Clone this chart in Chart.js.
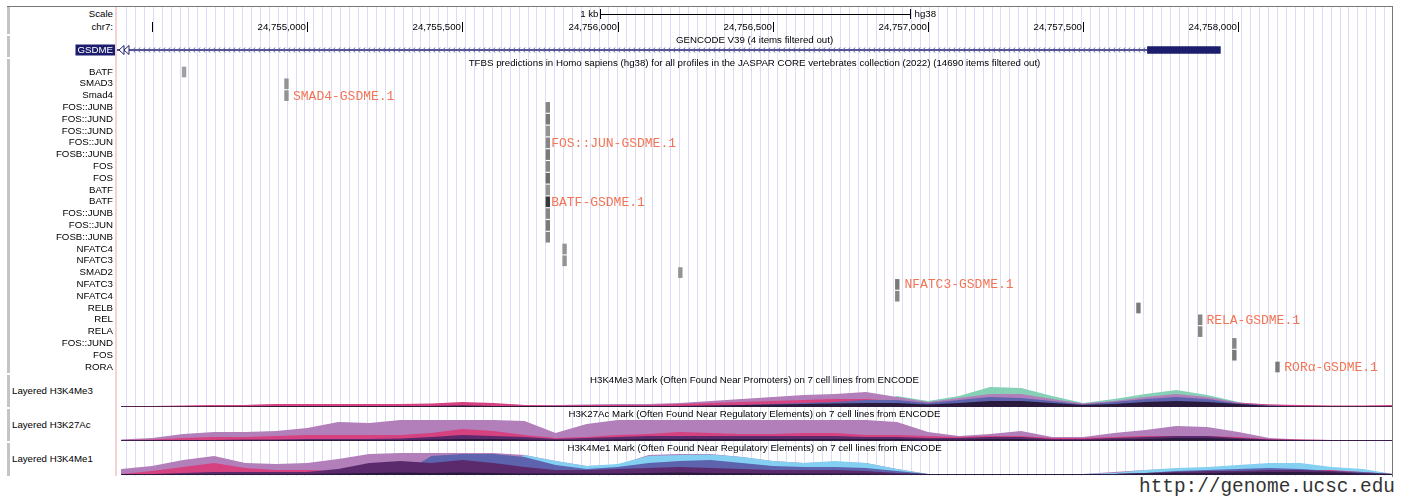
<!DOCTYPE html>
<html>
<head>
<meta charset="utf-8">
<script src="https://cdn.jsdelivr.net/npm/chart.js@4.4.1/dist/chart.umd.min.js"></script>
<style>
body{margin:0;background:#fff;width:1412px;height:497px;overflow:hidden;position:relative;font-family:"Liberation Sans",Arial,sans-serif;}
canvas{position:absolute;left:0}
.lbl{position:absolute;font-size:9.7px;line-height:12px;height:12px;color:#000;white-space:nowrap}
.r{left:0;width:113px;text-align:right}
.bar{position:absolute;left:7px;width:3px;background:#c4c4c4}
</style>
</head>
<body>
<div style="position:absolute;left:7px;top:6px;width:1386px;height:1px;background:#777"></div>
<div style="position:absolute;left:1392px;top:6px;width:1px;height:471px;background:#777"></div>
<div style="position:absolute;left:115px;top:7px;width:2px;height:469px;background:#f8d2d2"></div>
<div class="bar" style="top:7px;height:27px"></div>
<div class="bar" style="top:36px;height:21px"></div>
<div class="bar" style="top:59px;height:314px"></div>
<div class="bar" style="top:375px;height:32px"></div>
<div class="bar" style="top:409px;height:32px"></div>
<div class="bar" style="top:443px;height:33px"></div>

<div class="lbl r" style="top:8px">Scale</div>
<div class="lbl r" style="top:21px">chr7:</div>
<div class="lbl" style="left:12px;top:385px">Layered H3K4Me3</div>
<div class="lbl" style="left:12px;top:419px">Layered H3K27Ac</div>
<div class="lbl" style="left:12px;top:453px">Layered H3K4Me1</div>
<div style="position:absolute;right:17px;top:476px;font:19.4px 'Liberation Mono',monospace;line-height:22px;color:#333">http://genome.ucsc.edu</div>

<canvas id="ruler" width="1412" height="58" style="top:0px"></canvas>
<canvas id="tfbs" width="1412" height="316" style="top:58px"></canvas>
<canvas id="k4me3" width="1412" height="34" style="top:374px"></canvas>
<canvas id="k27ac" width="1412" height="34" style="top:408px"></canvas>
<canvas id="k4me1" width="1412" height="34" style="top:442px"></canvas>

<script>
// chr7 window shown
const XMIN = 24754387, XMAX = 24758495;

// ruler
const rulerTicks = [24754500, 24755000, 24755500, 24756000, 24756500, 24757000, 24757500, 24758000];
const rulerLabels = ['', '24,755,000', '24,755,500', '24,756,000', '24,756,500', '24,757,000', '24,757,500', '24,758,000'];
const scaleBarStart = 24755942, scaleBarLen = 1000;

// gene
const geneNames = ['GSDME'];
const geneIntron = [[24754000, 24757707]];
const geneExon = [[24757707, 24757942]];

// TFBS hits
const tfNames = ['BATF', 'SMAD3', 'Smad4', 'FOS::JUNB', 'FOS::JUND', 'FOS::JUND', 'FOS::JUN', 'FOSB::JUNB',
  'FOS', 'FOS', 'BATF', 'BATF', 'FOS::JUNB', 'FOS::JUN', 'FOSB::JUNB', 'NFATC4', 'NFATC3', 'SMAD2',
  'NFATC3', 'NFATC4', 'RELB', 'REL', 'RELA', 'FOS::JUND', 'FOS', 'RORA'];
const tfStart = [24754597, 24754927, 24754927, 24755769, 24755769, 24755769, 24755769, 24755769,
  24755769, 24755769, 24755769, 24755769, 24755769, 24755769, 24755769, 24755823, 24755823, 24756196,
  24756895, 24756895, 24757672, 24757871, 24757871, 24757981, 24757981, 24758120];
const tfEnd = [24754609, 24754939, 24754939, 24755781, 24755781, 24755781, 24755781, 24755781,
  24755781, 24755781, 24755781, 24755781, 24755781, 24755781, 24755781, 24755835, 24755835, 24756208,
  24756907, 24756907, 24757684, 24757883, 24757883, 24757993, 24757993, 24758132];
const tfScore = [500, 550, 550, 600, 650, 550, 600, 650, 600, 700, 550, 900, 600, 650, 600,
  550, 550, 550, 650, 600, 650, 600, 600, 600, 650, 650];

// highlighted sites
const annoText = ['SMAD4-GSDME.1', 'FOS::JUN-GSDME.1', 'BATF-GSDME.1', 'NFATC3-GSDME.1', 'RELA-GSDME.1', 'RORα-GSDME.1'];
const annoRow = [2, 6, 11, 18, 21, 25];
const annoPos = [24754954, 24755786, 24755786, 24756924, 24757897, 24758148];

// signal sample positions
const sigPos = [24754400, 24754500, 24754600, 24754700, 24754800, 24754900, 24755000, 24755100, 24755200,
  24755300, 24755400, 24755500, 24755600, 24755700, 24755800, 24755900, 24756000, 24756100, 24756200,
  24756300, 24756400, 24756500, 24756600, 24756700, 24756800, 24756900, 24757000, 24757100, 24757200,
  24757300, 24757400, 24757500, 24757600, 24757700, 24757800, 24757900, 24758000, 24758100, 24758200,
  24758300, 24758400, 24758500];

// H3K4Me3
const k4me3Green = [0,0,0,0,0,0,0,0,0,0,0,0,0,0,0,0,0,0,0,0,0,0,0,0,0,11,6,11,20,19,11,4,8,13,17,12,5,0,0,0,0,0];
const k4me3Purple = [0.5,1,1,1.5,2,2.5,2.5,2.5,2.5,3,3,4,3,2,2,2.5,3,3,4,6,8,10,12,13,15,10,5,9,13,13,8,3.5,6,10,13,10,4.5,2.5,1.5,1,1,1.5];
const k4me3Pink = [1,1,1.5,2,2,3,3,3,3,3,3.5,5,4,2,1.5,2,2,2,3,4,5,6,7,8,8,6,4,5,6,6,4,3,4,5,6,5,4,2.5,2,1.5,1.5,2];
const k4me3Slate = [0,0,0,0,0,0,0,0,0,0,0,0,0,0,0,0,0,0,0,1,2,3,4,5,7,7,4,7,10,9,6,2.5,5,8,10,8,3.5,1.5,0.5,0.5,0.5,0.5];
const k4me3Navy = [0.8,0.8,0.8,0.8,0.8,1,1,1,1,1,1,1.5,1,1,1,1,1,1,1,1.5,2,2.5,3,3.5,4,4,2.5,4,6,6,4,2,3,5,6,5,3,1,0.8,0.8,0.8,0.8];

// H3K27Ac
const k27Purple = [1.5,3,7,9,9,10,13,19,18,21,21,21,21,20,8,17,21,21,21,21,21,21,21,21,21,19,9,5,7,10,4,4,8,11,15,14,9,3,1.5,1,1,1];
const k27Pink = [1,1.5,3,4,4,5,6,6,6,6,8,12,10,6,3,4,6,7,9,8,7,7,8,8,6,6,5,4,5,5,3,3,4,5,5,5,4,2,1.5,1,1,1];
const k27Dark = [0.5,0.8,1,1,1.5,1.5,2,2,2,2.5,4,6,5,4,2,3,4,5,5,5,5,5,5,5,4,4,3,3,4,4,2,2,3,4,5,5,3,1.5,1,0.8,0.8,0.8];
const k27Navy = [0.8,0.8,0.8,0.8,0.8,0.8,1,1,1,1,1.5,2,2,1.5,1,1,1.5,2,2,2,2,2,2,2,2,2,1.5,1.5,2,2,1,1,1.5,2,3,3,2,1,0.8,0.8,0.8,0.8];

// H3K4Me1
const k4me1Purple = [6,9,15,19,12,11,12,16,21,22,22,22,22,20,14,9,10,20,21,21,18,14,12,13,12,6,1,1,1,1,1,1,3,5,6,7,7,7,7,6,4,1];
const k4me1Blue = [0,0,0,0,0,0,0,0,0,0,0,0,0,20,14,9,11,19,20,20.5,18,14,12,14,12,6,1,1,1,1,1,1,2,5,7,8,10,12,12,8,6,1];
const k4me1Pink = [1,4,8,12,7,5,5,4,3,2,2,2,2,1.5,1.5,1.5,1.5,1.5,1.5,1.5,1.5,1.5,1.5,1.5,1.5,1.5,1,1,1,1,1,1,1,1.5,2,2,3,4,5,5,3,1];
const k4me1Slate = [0,0,0,0,0,0,0,0,0,0,19,21,21,18,10,6,8,12,14,15,12,9,8,8,7,4,1,1,1,1,1,1,1,2,4,5,6,7,6,4,3,1];
const k4me1Dark = [1,1,2,3,3,3,3,6,12,14,12,15,12,8,5,5,6,7,8,7,6,5,5,5,4,2,1,1,1,1,1,1,1,2,3,4,4,5,5,4,2,1];
const k4me1Navy = [1,1,1,1,1,1,1,1.5,2,2.5,2,2.5,2,1.5,1.5,1.5,1.5,2,2.5,2,2,1.5,1.5,1.5,1.5,1,1,1,1,1,1,1,1,1.5,2,2,2.5,3,3,2.5,1.5,1];

const FONT = '9.7px "Liberation Sans", Arial, sans-serif';
const NAVY = '#1d1d6e';
const guideStart = 24754416, guideStep = 28.75;

const guides = {
  id: 'guides',
  beforeDatasetsDraw(chart, args, opts) {
    const x = chart.scales.x, ctx = chart.ctx;
    ctx.save();
    ctx.strokeStyle = '#dcdcf6';
    ctx.lineWidth = 1;
    ctx.beginPath();
    for (let v = guideStart; v < XMAX; v += guideStep) {
      const px = Math.round(x.getPixelForValue(v)) + 0.5;
      ctx.moveTo(px, opts.top || 0);
      ctx.lineTo(px, chart.height);
    }
    ctx.stroke();
    ctx.restore();
  }
};

const rulerDeco = {
  id: 'rulerDeco',
  afterDraw(chart) {
    const x = chart.scales.x, ctx = chart.ctx, a = chart.chartArea;
    ctx.save();
    ctx.font = FONT;
    ctx.fillStyle = '#000';
    ctx.strokeStyle = '#000';
    ctx.textBaseline = 'middle';
    // scale bar
    const s0 = Math.round(x.getPixelForValue(scaleBarStart)) + 0.5;
    const s1 = Math.round(x.getPixelForValue(scaleBarStart + scaleBarLen)) + 0.5;
    ctx.beginPath();
    ctx.moveTo(s0, 14.5); ctx.lineTo(s1, 14.5);
    ctx.moveTo(s0, 9); ctx.lineTo(s0, 19);
    ctx.moveTo(s1, 9); ctx.lineTo(s1, 19);
    ctx.stroke();
    ctx.textAlign = 'right';
    ctx.fillText('1 kb', s0 - 2, 14);
    ctx.textAlign = 'left';
    ctx.fillText('hg38', s1 + 4, 14);
    // chromosome ticks
    ctx.textAlign = 'right';
    ctx.beginPath();
    rulerTicks.forEach((t, i) => {
      const px = Math.round(x.getPixelForValue(t)) + 0.5;
      ctx.moveTo(px, 22); ctx.lineTo(px, 32);
      if (rulerLabels[i]) ctx.fillText(rulerLabels[i], px - 1.5, 27.5);
    });
    ctx.stroke();
    ctx.textAlign = 'center';
    ctx.fillText('GENCODE V39 (4 items filtered out)', (a.left + a.right) / 2, 40);
    // intron direction chevrons
    const y = chart.scales.y.getPixelForValue(0);
    const c1 = x.getPixelForValue(geneExon[0][0]) - 3;
    ctx.strokeStyle = '#5a5aa8';
    ctx.beginPath();
    for (let px = a.left + 16; px < c1; px += 5) {
      ctx.moveTo(px + 2, y - 2.5); ctx.lineTo(px, y); ctx.lineTo(px + 2, y + 2.5);
    }
    ctx.stroke();
    // off-screen arrows
    ctx.strokeStyle = NAVY;
    ctx.fillStyle = '#fff';
    [a.left + 2, a.left + 7].forEach(px => {
      ctx.beginPath();
      ctx.moveTo(px, y); ctx.lineTo(px + 5, y - 4.5); ctx.lineTo(px + 5, y + 4.5); ctx.closePath();
      ctx.fill(); ctx.stroke();
    });
    // gene label
    const w = ctx.measureText(geneNames[0]).width;
    ctx.fillStyle = NAVY;
    ctx.fillRect(a.left - 3 - w - 3, y - 5.5, w + 4, 11);
    ctx.fillStyle = '#fff';
    ctx.textAlign = 'right';
    ctx.fillText(geneNames[0], a.left - 4, y + 0.5);
    ctx.restore();
  }
};

new Chart(document.getElementById('ruler'), {
  type: 'bar',
  data: {
    labels: geneNames,
    datasets: [
      { data: geneIntron, backgroundColor: NAVY, barThickness: 1, grouped: false },
      { data: geneExon, backgroundColor: NAVY, barThickness: 7, grouped: false }
    ]
  },
  options: {
    indexAxis: 'y',
    responsive: false,
    animation: false,
    devicePixelRatio: 1,
    layout: { padding: { left: 117, right: 20, top: 44, bottom: 2 } },
    scales: {
      x: { type: 'linear', min: XMIN, max: XMAX, display: false },
      y: { display: false }
    },
    plugins: { legend: { display: false }, tooltip: { enabled: false }, guides: { top: 7 } }
  },
  plugins: [guides, rulerDeco]
});

const tfDeco = {
  id: 'tfDeco',
  afterDatasetsDraw(chart) {
    const x = chart.scales.x, yS = chart.scales.y, ctx = chart.ctx, a = chart.chartArea;
    ctx.save();
    ctx.font = FONT;
    ctx.fillStyle = '#000';
    ctx.textAlign = 'center';
    ctx.textBaseline = 'middle';
    ctx.fillText('TFBS predictions in Homo sapiens (hg38) for all profiles in the JASPAR CORE vertebrates collection (2022) (14690 items filtered out)',
      (a.left + a.right) / 2, 5);
    ctx.font = '13px "Liberation Mono", monospace';
    ctx.fillStyle = '#f27455';
    ctx.textAlign = 'left';
    annoText.forEach((t, i) => {
      ctx.fillText(t, x.getPixelForValue(annoPos[i]), yS.getPixelForValue(annoRow[i]) + 0.5);
    });
    ctx.restore();
  }
};

new Chart(document.getElementById('tfbs'), {
  type: 'bar',
  data: {
    labels: tfNames,
    datasets: [{
      data: tfStart.map((s, i) => [s, tfEnd[i]]),
      backgroundColor: tfScore.map(s => { const g = Math.round(290 - s * 0.26); return `rgb(${g},${g},${g})`; }),
      barThickness: 10
    }]
  },
  options: {
    indexAxis: 'y',
    responsive: false,
    animation: false,
    devicePixelRatio: 1,
    layout: { padding: { left: 0, right: 20, top: 8.1, bottom: 1.1 } },
    scales: {
      x: { type: 'linear', min: XMIN, max: XMAX, display: false },
      y: {
        afterFit(s) { s.width = 117; s.paddingTop = 0; s.paddingBottom = 0; },
        grid: { display: false, drawTicks: false },
        border: { display: false },
        ticks: { autoSkip: false, padding: 4, color: '#000', font: { family: '"Liberation Sans", Arial, sans-serif', size: 9.7 } }
      }
    },
    plugins: { legend: { display: false }, tooltip: { enabled: false }, guides: { top: 0 } }
  },
  plugins: [guides, tfDeco]
});

const trackTitle = {
  id: 'trackTitle',
  afterDatasetsDraw(chart, args, opts) {
    const ctx = chart.ctx, a = chart.chartArea;
    ctx.save();
    ctx.font = FONT;
    ctx.fillStyle = '#000';
    ctx.textAlign = 'center';
    ctx.textBaseline = 'middle';
    ctx.fillText(opts.text, (a.left + a.right) / 2, 6.5);
    ctx.restore();
  }
};

function signalTrack(id, title, layers) {
  new Chart(document.getElementById(id), {
    type: 'line',
    data: {
      datasets: layers.map(l => ({
        data: sigPos.map((p, i) => ({ x: p, y: l.values[i] })),
        backgroundColor: l.color,
        borderWidth: 0,
        pointRadius: 0,
        fill: 'origin',
        order: l.order
      }))
    },
    options: {
      responsive: false,
      animation: false,
      devicePixelRatio: 1,
      layout: { padding: { left: 117, right: 20, top: 1, bottom: 1 } },
      scales: {
        x: { type: 'linear', min: XMIN, max: XMAX, display: false },
        y: { min: 0, max: 32, display: false }
      },
      plugins: { legend: { display: false }, tooltip: { enabled: false }, guides: { top: 0 }, trackTitle: { text: title } }
    },
    plugins: [guides, trackTitle]
  });
}

signalTrack('k4me3', 'H3K4Me3 Mark (Often Found Near Promoters) on 7 cell lines from ENCODE', [
  { values: k4me3Green, color: '#86d0b6', order: 6 },
  { values: k4me3Purple, color: '#b27fba', order: 5 },
  { values: k4me3Pink, color: '#d6417f', order: 4 },
  { values: k4me3Slate, color: '#5d63ad', order: 3 },
  { values: k4me3Navy, color: '#2a1a3e', order: 0 }
]);

signalTrack('k27ac', 'H3K27Ac Mark (Often Found Near Regulatory Elements) on 7 cell lines from ENCODE', [
  { values: k27Purple, color: '#b27fba', order: 5 },
  { values: k27Pink, color: '#d6417f', order: 4 },
  { values: k27Dark, color: '#5b2a6c', order: 2 },
  { values: k27Navy, color: '#2a1a3e', order: 0 }
]);

signalTrack('k4me1', 'H3K4Me1 Mark (Often Found Near Regulatory Elements) on 7 cell lines from ENCODE', [
  { values: k4me1Purple, color: '#b27fba', order: 6 },
  { values: k4me1Blue, color: '#83d0f2', order: 5 },
  { values: k4me1Pink, color: '#d6417f', order: 4 },
  { values: k4me1Slate, color: '#5d63ad', order: 3 },
  { values: k4me1Dark, color: '#5b2a6c', order: 2 },
  { values: k4me1Navy, color: '#2a1a3e', order: 0 }
]);
</script>
</body>
</html>
